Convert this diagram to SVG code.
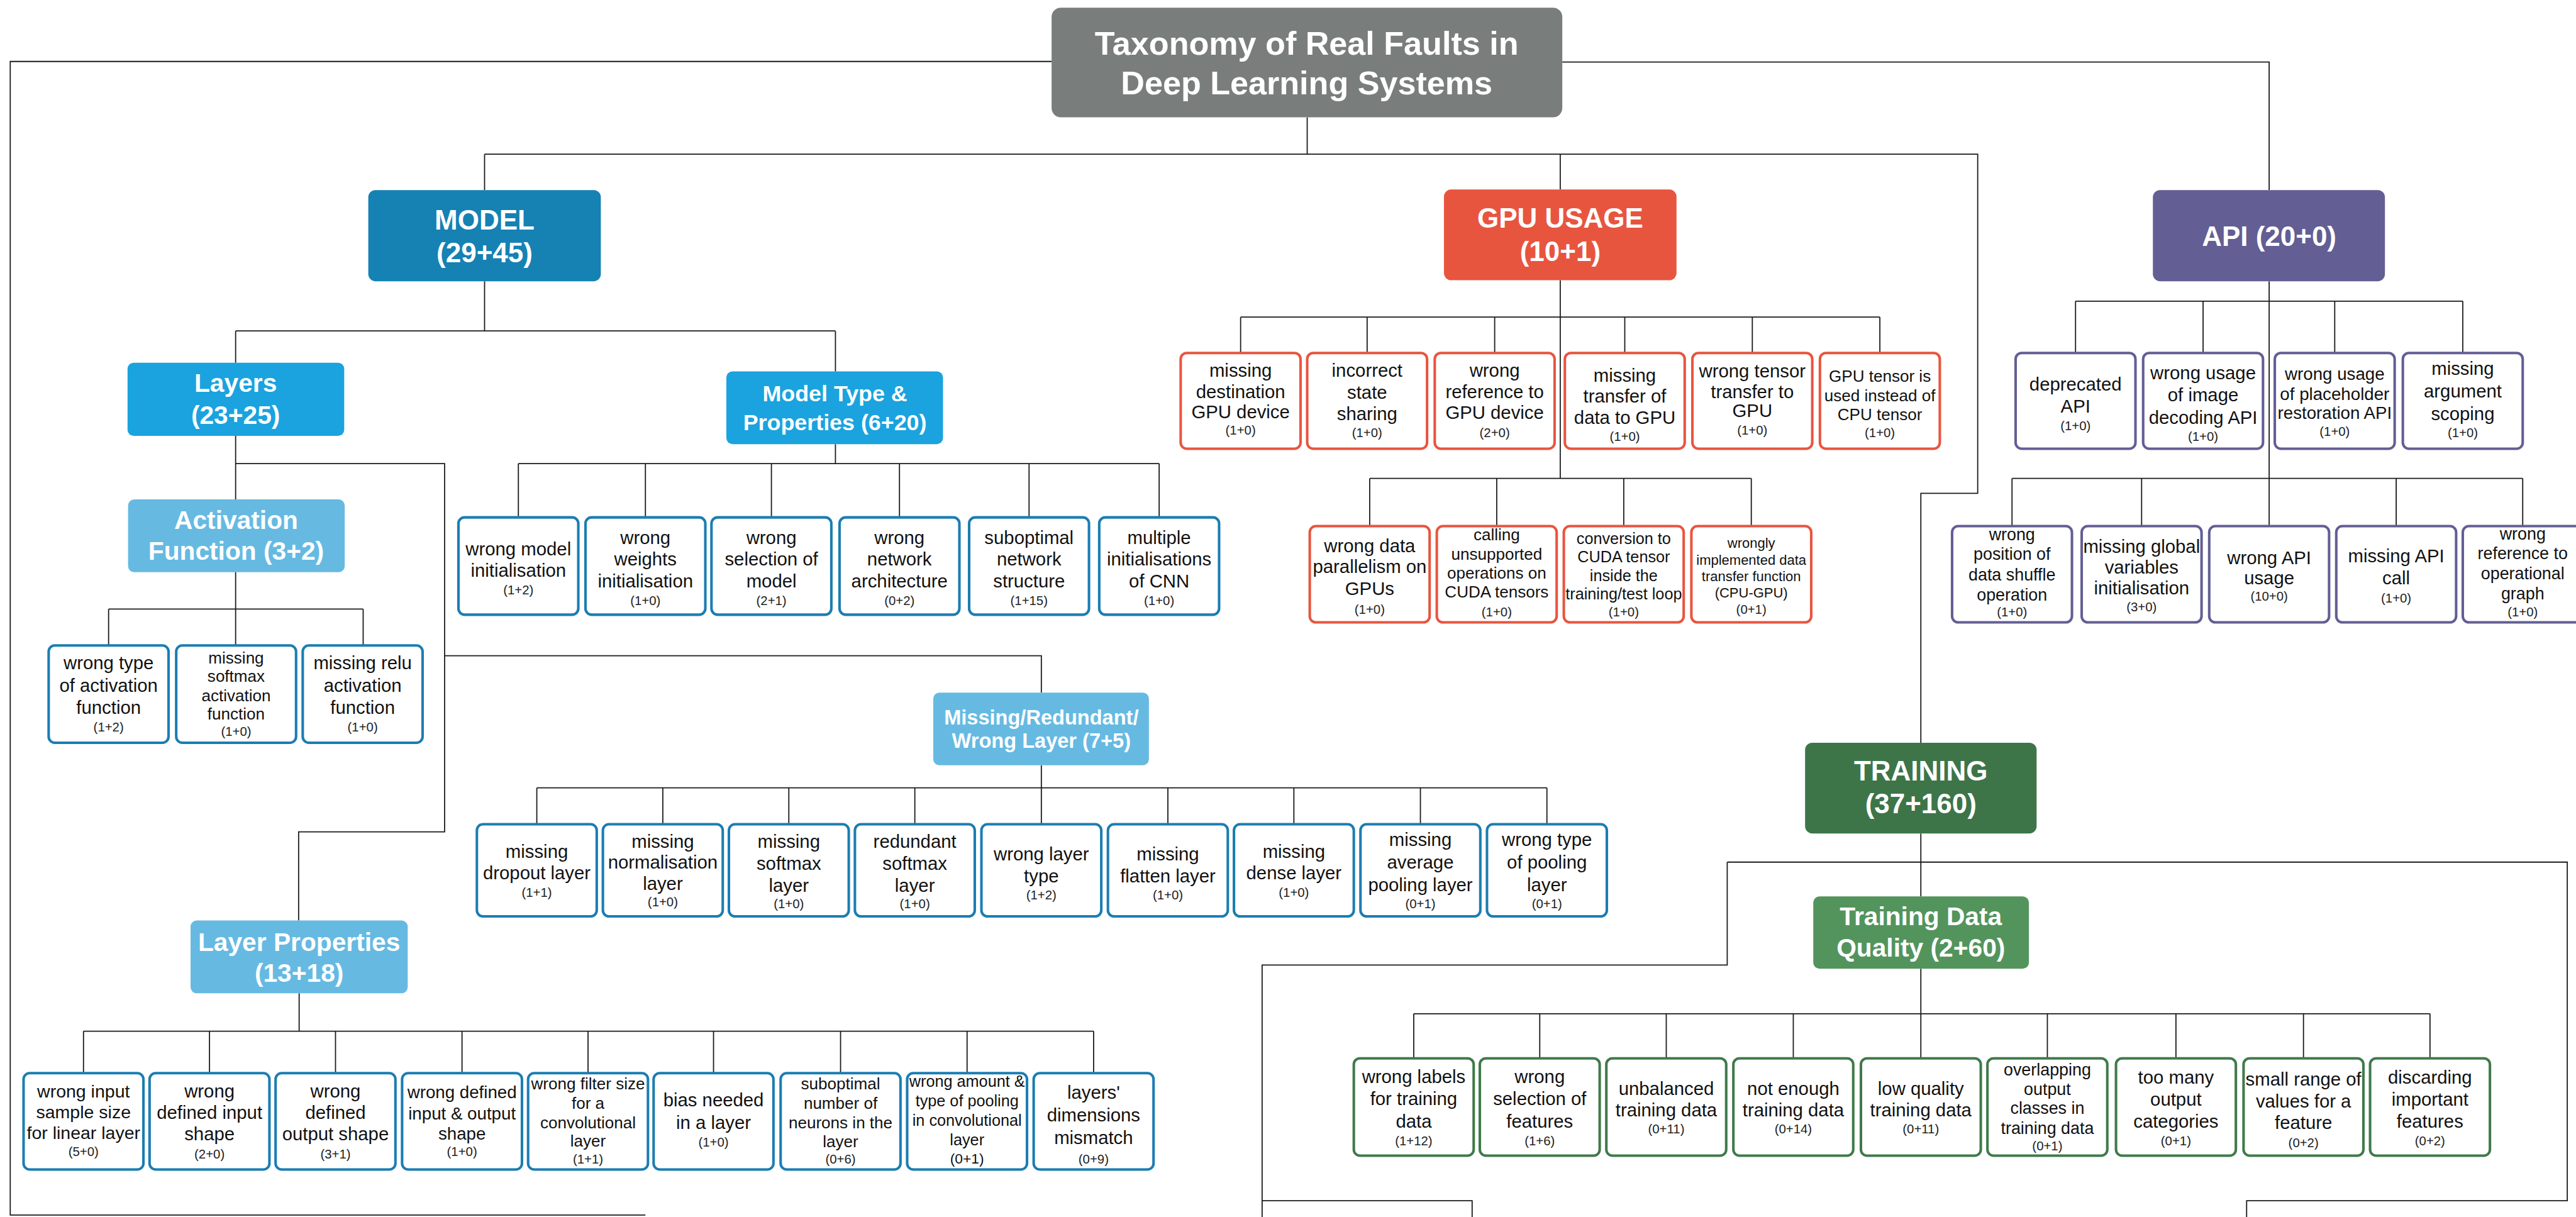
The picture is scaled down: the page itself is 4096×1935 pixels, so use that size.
<svg xmlns="http://www.w3.org/2000/svg" width="4096" height="1935" viewBox="0 0 4096 1935">
<style>
.ln{stroke:#1a1a1a;stroke-width:2.2;fill:none}
.lf{fill:#fff;stroke-width:5}
.bm{stroke:#1b7db2}.bg{stroke:#e8553f}.ba{stroke:#635e94}.bt{stroke:#3f7a4a}
.t{font-family:"Liberation Sans",Arial,Helvetica,sans-serif;text-anchor:middle;fill:#111;font-size:36px}
.c{font-size:25px;fill:#222}
.h{font-weight:bold;fill:#fff}
.s32{font-size:32px}.s31{font-size:31px}.s27{font-size:27px}.s33{font-size:33px}.s34{font-size:34px}.s35{font-size:35px}.s28{font-size:28px}
.f64{font-size:64px}.f54{font-size:54px}.f50{font-size:50px}.f44{font-size:44px}.f40{font-size:40px}
</style>
<rect width="4096" height="1935" fill="#fff"/>
<g transform="scale(0.81447)">
<g id="connectors" class="ln">
<path d="M2053,120H20V2372H1260"/>
<path d="M3050,121H4430V371"/>
<path d="M2552,229V301"/>
<path d="M946,301H3861V963H3750V1450"/>
<path d="M946,301V371M3046,301V370"/>
<path d="M946,549V646M460,646H1631M460,646V708M1631,646V725"/>
<path d="M460,851V975M460,905H868V1624H583V1797M868,1280H2033V1352"/>
<path d="M460,1117V1189M212,1189H709M212,1189V1260M460,1189V1260M709,1189V1260"/>
<path d="M1631,867V905M1012,905H2263M1012,905V1010M1260,905V1010M1506,905V1010M1756,905V1010M2009,905V1010M2263,905V1010"/>
<path d="M2033,1494V1538M1048,1538H3020M1048,1538V1609M1294,1538V1609M1540,1538V1609M1786,1538V1609M2033,1538V1609M2280,1538V1609M2526,1538V1609M2773,1538V1609M3020,1538V1609"/>
<path d="M584,1939V2013M163,2013H2135M163,2013V2095M409,2013V2095M655,2013V2095M902,2013V2095M1148,2013V2095M1393,2013V2095M1641,2013V2095M1888,2013V2095M2135,2013V2095"/>
<path d="M3046,547V934M2422,619H3670M2422,619V689M2669,619V689M2918,619V689M3172,619V689M3421,619V689M3670,619V689M2674,934H3419M2674,934V1027M2922,934V1027M3170,934V1027M3419,934V1027"/>
<path d="M4430,549V934M4052,588H4808M4052,588V689M4301,588V689M4558,588V689M4808,588V689M3928,934H4925M3928,934V1027M4181,934V1027M4430,934V1027M4678,934V1027M4925,934V1027"/>
<path d="M3750,1627V1750M3372,1683H5012V2344H4386V2380M3372,1683V1884H2464V2380M2464,2344H2874V2380"/>
<path d="M3750,1891V2066M2760,1979H4744M2760,1979V2066M3006,1979V2066M3253,1979V2066M3501,1979V2066M3997,1979V2066M4248,1979V2066M4497,1979V2066M4744,1979V2066"/>
</g>

<g id="title"><rect x="2053" y="15" width="997" height="214" rx="18" fill="#797d7c"/>
<text class="t h f64" x="2551" y="107">Taxonomy of Real Faults in</text>
<text class="t h f64" x="2551" y="184">Deep Learning Systems</text></g>

<g id="model"><rect x="719" y="371" width="454" height="178" rx="14" fill="#1681b3"/>
<text class="t h f54" x="946" y="448">MODEL</text><text class="t h f54" x="946" y="512">(29+45)</text></g>
<g id="gpu"><rect x="2819" y="370" width="454" height="177" rx="14" fill="#e8553f"/>
<text class="t h f54" x="3046" y="445">GPU USAGE</text><text class="t h f54" x="3046" y="510">(10+1)</text></g>
<g id="api"><rect x="4203" y="371" width="453" height="178" rx="14" fill="#635e94"/>
<text class="t h f54" x="4430" y="480">API (20+0)</text></g>
<g id="layers"><rect x="249" y="708" width="423" height="143" rx="12" fill="#1aa3de"/>
<text class="t h f50" x="460" y="765">Layers</text><text class="t h f50" x="460" y="828">(23+25)</text></g>
<g id="modeltype"><rect x="1418" y="725" width="423" height="142" rx="12" fill="#1aa3de"/>
<text class="t h f44" x="1630" y="783">Model Type &amp;</text><text class="t h f44" x="1630" y="840">Properties (6+20)</text></g>
<g id="activation"><rect x="250" y="975" width="423" height="142" rx="12" fill="#66bae2"/>
<text class="t h f50" x="461" y="1032">Activation</text><text class="t h f50" x="461" y="1093">Function (3+2)</text></g>
<g id="mrw"><rect x="1822" y="1352" width="421" height="142" rx="12" fill="#66bae2"/>
<text class="t h f40" x="2033" y="1414">Missing/Redundant/</text><text class="t h f40" x="2033" y="1460">Wrong Layer (7+5)</text></g>
<g id="layerprops"><rect x="372" y="1797" width="424" height="142" rx="12" fill="#66bae2"/>
<text class="t h f50" x="584" y="1857">Layer Properties</text><text class="t h f50" x="584" y="1917">(13+18)</text></g>
<g id="training"><rect x="3524" y="1450" width="452" height="177" rx="14" fill="#3d7549"/>
<text class="t h f54" x="3750" y="1524">TRAINING</text><text class="t h f54" x="3750" y="1588">(37+160)</text></g>
<g id="tdq"><rect x="3540" y="1750" width="421" height="141" rx="12" fill="#53945d"/>
<text class="t h f50" x="3750" y="1806">Training Data</text><text class="t h f50" x="3750" y="1867">Quality (2+60)</text></g>

<!-- Activation children -->
<g id="a1"><rect class="lf bm" x="95" y="1260" width="234" height="190" rx="12"/><text class="t" x="212" y="1307">wrong type</text><text class="t" x="212" y="1350">of activation</text><text class="t" x="212" y="1393">function</text><text class="t c" x="212" y="1428">(1+2)</text></g>
<g id="a2"><rect class="lf bm" x="344" y="1260" width="234" height="190" rx="12"/><text class="t s32" x="461" y="1295">missing</text><text class="t s32" x="461" y="1331">softmax</text><text class="t s32" x="461" y="1369">activation</text><text class="t s32" x="461" y="1404">function</text><text class="t c" x="461" y="1437">(1+0)</text></g>
<g id="a3"><rect class="lf bm" x="591" y="1260" width="234" height="190" rx="12"/><text class="t" x="708" y="1307">missing relu</text><text class="t" x="708" y="1350">activation</text><text class="t" x="708" y="1393">function</text><text class="t c" x="708" y="1428">(1+0)</text></g>

<!-- Model type children -->
<g id="m1"><rect class="lf bm" x="895" y="1010" width="234" height="190" rx="12"/><text class="t" x="1012" y="1084">wrong model</text><text class="t" x="1012" y="1126">initialisation</text><text class="t c" x="1012" y="1160">(1+2)</text></g>
<g id="m2"><rect class="lf bm" x="1143" y="1010" width="234" height="190" rx="12"/><text class="t" x="1260" y="1062">wrong</text><text class="t" x="1260" y="1104">weights</text><text class="t" x="1260" y="1147">initialisation</text><text class="t c" x="1260" y="1181">(1+0)</text></g>
<g id="m3"><rect class="lf bm" x="1389" y="1010" width="234" height="190" rx="12"/><text class="t" x="1506" y="1062">wrong</text><text class="t" x="1506" y="1104">selection of</text><text class="t" x="1506" y="1147">model</text><text class="t c" x="1506" y="1181">(2+1)</text></g>
<g id="m4"><rect class="lf bm" x="1639" y="1010" width="234" height="190" rx="12"/><text class="t" x="1756" y="1062">wrong</text><text class="t" x="1756" y="1104">network</text><text class="t" x="1756" y="1147">architecture</text><text class="t c" x="1756" y="1181">(0+2)</text></g>
<g id="m5"><rect class="lf bm" x="1892" y="1010" width="234" height="190" rx="12"/><text class="t" x="2009" y="1062">suboptimal</text><text class="t" x="2009" y="1104">network</text><text class="t" x="2009" y="1147">structure</text><text class="t c" x="2009" y="1181">(1+15)</text></g>
<g id="m6"><rect class="lf bm" x="2146" y="1010" width="234" height="190" rx="12"/><text class="t" x="2263" y="1062">multiple</text><text class="t" x="2263" y="1104">initialisations</text><text class="t" x="2263" y="1147">of CNN</text><text class="t c" x="2263" y="1181">(1+0)</text></g>

<!-- Missing/Redundant/Wrong layer children -->
<g id="r1"><rect class="lf bm" x="931" y="1609" width="234" height="180" rx="12"/><text class="t" x="1048" y="1675">missing</text><text class="t" x="1048" y="1716">dropout layer</text><text class="t c" x="1048" y="1751">(1+1)</text></g>
<g id="r2"><rect class="lf bm" x="1177" y="1609" width="234" height="180" rx="12"/><text class="t" x="1294" y="1655">missing</text><text class="t" x="1294" y="1696">normalisation</text><text class="t" x="1294" y="1737">layer</text><text class="t c" x="1294" y="1769">(1+0)</text></g>
<g id="r3"><rect class="lf bm" x="1423" y="1609" width="234" height="180" rx="12"/><text class="t" x="1540" y="1655">missing</text><text class="t" x="1540" y="1698">softmax</text><text class="t" x="1540" y="1741">layer</text><text class="t c" x="1540" y="1773">(1+0)</text></g>
<g id="r4"><rect class="lf bm" x="1669" y="1609" width="234" height="180" rx="12"/><text class="t" x="1786" y="1655">redundant</text><text class="t" x="1786" y="1698">softmax</text><text class="t" x="1786" y="1741">layer</text><text class="t c" x="1786" y="1773">(1+0)</text></g>
<g id="r5"><rect class="lf bm" x="1916" y="1609" width="234" height="180" rx="12"/><text class="t" x="2033" y="1680">wrong layer</text><text class="t" x="2033" y="1723">type</text><text class="t c" x="2033" y="1756">(1+2)</text></g>
<g id="r6"><rect class="lf bm" x="2163" y="1609" width="234" height="180" rx="12"/><text class="t" x="2280" y="1680">missing</text><text class="t" x="2280" y="1723">flatten layer</text><text class="t c" x="2280" y="1756">(1+0)</text></g>
<g id="r7"><rect class="lf bm" x="2409" y="1609" width="234" height="180" rx="12"/><text class="t" x="2526" y="1675">missing</text><text class="t" x="2526" y="1716">dense layer</text><text class="t c" x="2526" y="1751">(1+0)</text></g>
<g id="r8"><rect class="lf bm" x="2656" y="1609" width="234" height="180" rx="12"/><text class="t" x="2773" y="1652">missing</text><text class="t" x="2773" y="1695">average</text><text class="t" x="2773" y="1740">pooling layer</text><text class="t c" x="2773" y="1773">(0+1)</text></g>
<g id="r9"><rect class="lf bm" x="2903" y="1609" width="234" height="180" rx="12"/><text class="t" x="3020" y="1652">wrong type</text><text class="t" x="3020" y="1695">of pooling</text><text class="t" x="3020" y="1740">layer</text><text class="t c" x="3020" y="1773">(0+1)</text></g>

<!-- Layer properties children -->
<g id="l1"><rect class="lf bm" x="46" y="2095" width="234" height="188" rx="12"/><text class="t s35" x="163" y="2142">wrong input</text><text class="t s35" x="163" y="2183">sample size</text><text class="t s35" x="163" y="2224">for linear layer</text><text class="t c" x="163" y="2257">(5+0)</text></g>
<g id="l2"><rect class="lf bm" x="292" y="2095" width="234" height="188" rx="12"/><text class="t" x="409" y="2142">wrong</text><text class="t" x="409" y="2184">defined input</text><text class="t" x="409" y="2226">shape</text><text class="t c" x="409" y="2262">(2+0)</text></g>
<g id="l3"><rect class="lf bm" x="538" y="2095" width="234" height="188" rx="12"/><text class="t" x="655" y="2142">wrong</text><text class="t" x="655" y="2184">defined</text><text class="t" x="655" y="2226">output shape</text><text class="t c" x="655" y="2262">(3+1)</text></g>
<g id="l4"><rect class="lf bm" x="785" y="2095" width="234" height="188" rx="12"/><text class="t s34" x="902" y="2144">wrong defined</text><text class="t s34" x="902" y="2185">input &amp; output</text><text class="t s34" x="902" y="2225">shape</text><text class="t c" x="902" y="2257">(1+0)</text></g>
<g id="l5"><rect class="lf bm" x="1031" y="2095" width="234" height="188" rx="12"/><text class="t s32" x="1148" y="2127">wrong filter size</text><text class="t s32" x="1148" y="2165">for a</text><text class="t s32" x="1148" y="2203">convolutional</text><text class="t s32" x="1148" y="2238">layer</text><text class="t c" x="1148" y="2271">(1+1)</text></g>
<g id="l6"><rect class="lf bm" x="1276" y="2095" width="234" height="188" rx="12"/><text class="t" x="1393" y="2160">bias needed</text><text class="t" x="1393" y="2204">in a layer</text><text class="t c" x="1393" y="2238">(1+0)</text></g>
<g id="l7"><rect class="lf bm" x="1524" y="2095" width="234" height="188" rx="12"/><text class="t s32" x="1641" y="2127">suboptimal</text><text class="t s32" x="1641" y="2165">number of</text><text class="t s32" x="1641" y="2203">neurons in the</text><text class="t s32" x="1641" y="2240">layer</text><text class="t c" x="1641" y="2271">(0+6)</text></g>
<g id="l8"><rect class="lf bm" x="1771" y="2095" width="234" height="188" rx="12"/><text class="t s31" x="1888" y="2122">wrong amount &amp;</text><text class="t s31" x="1888" y="2160">type of pooling</text><text class="t s31" x="1888" y="2198">in convolutional</text><text class="t s31" x="1888" y="2236">layer</text><text class="t s28" x="1888" y="2271">(0+1)</text></g>
<g id="l9"><rect class="lf bm" x="2018" y="2095" width="234" height="188" rx="12"/><text class="t" x="2135" y="2145">layers'</text><text class="t" x="2135" y="2189">dimensions</text><text class="t" x="2135" y="2233">mismatch</text><text class="t c" x="2135" y="2271">(0+9)</text></g>

<!-- GPU children -->
<g id="g1"><rect class="lf bg" x="2305" y="689" width="234" height="187" rx="12"/><text class="t" x="2422" y="735">missing</text><text class="t" x="2422" y="777">destination</text><text class="t" x="2422" y="817">GPU device</text><text class="t c" x="2422" y="849">(1+0)</text></g>
<g id="g2"><rect class="lf bg" x="2552" y="689" width="234" height="187" rx="12"/><text class="t" x="2669" y="735">incorrect</text><text class="t" x="2669" y="778">state</text><text class="t" x="2669" y="820">sharing</text><text class="t c" x="2669" y="853">(1+0)</text></g>
<g id="g3"><rect class="lf bg" x="2801" y="689" width="234" height="187" rx="12"/><text class="t" x="2918" y="735">wrong</text><text class="t" x="2918" y="777">reference to</text><text class="t" x="2918" y="818">GPU device</text><text class="t c" x="2918" y="853">(2+0)</text></g>
<g id="g4"><rect class="lf bg" x="3055" y="689" width="234" height="187" rx="12"/><text class="t" x="3172" y="745">missing</text><text class="t" x="3172" y="786">transfer of</text><text class="t" x="3172" y="828">data to GPU</text><text class="t c" x="3172" y="861">(1+0)</text></g>
<g id="g5"><rect class="lf bg" x="3304" y="689" width="234" height="187" rx="12"/><text class="t" x="3421" y="737">wrong tensor</text><text class="t" x="3421" y="777">transfer to</text><text class="t" x="3421" y="814">GPU</text><text class="t c" x="3421" y="848">(1+0)</text></g>
<g id="g6"><rect class="lf bg" x="3553" y="689" width="234" height="187" rx="12"/><text class="t s32" x="3670" y="745">GPU tensor is</text><text class="t s32" x="3670" y="783">used instead of</text><text class="t s32" x="3670" y="820">CPU tensor</text><text class="t c" x="3670" y="853">(1+0)</text></g>
<g id="h1"><rect class="lf bg" x="2557" y="1027" width="234" height="188" rx="12"/><text class="t" x="2674" y="1078">wrong data</text><text class="t" x="2674" y="1119">parallelism on</text><text class="t" x="2674" y="1162">GPUs</text><text class="t c" x="2674" y="1198">(1+0)</text></g>
<g id="h2"><rect class="lf bg" x="2805" y="1027" width="234" height="188" rx="12"/><text class="t s32" x="2922" y="1055">calling</text><text class="t s32" x="2922" y="1093">unsupported</text><text class="t s32" x="2922" y="1130">operations on</text><text class="t s32" x="2922" y="1167">CUDA tensors</text><text class="t c" x="2922" y="1203">(1+0)</text></g>
<g id="h3"><rect class="lf bg" x="3053" y="1027" width="234" height="188" rx="12"/><text class="t s31" x="3170" y="1062">conversion to</text><text class="t s31" x="3170" y="1098">CUDA tensor</text><text class="t s31" x="3170" y="1134">inside the</text><text class="t s31" x="3170" y="1170">training/test loop</text><text class="t c" x="3170" y="1203">(1+0)</text></g>
<g id="h4"><rect class="lf bg" x="3302" y="1027" width="234" height="188" rx="12"/><text class="t s27" x="3419" y="1070">wrongly</text><text class="t s27" x="3419" y="1102">implemented data</text><text class="t s27" x="3419" y="1134">transfer function</text><text class="t s27" x="3419" y="1167">(CPU-GPU)</text><text class="t c" x="3419" y="1198">(0+1)</text></g>

<!-- API children -->
<g id="p1"><rect class="lf ba" x="3935" y="689" width="234" height="187" rx="12"/><text class="t" x="4052" y="763">deprecated</text><text class="t" x="4052" y="806">API</text><text class="t c" x="4052" y="840">(1+0)</text></g>
<g id="p2"><rect class="lf ba" x="4184" y="689" width="234" height="187" rx="12"/><text class="t" x="4301" y="740">wrong usage</text><text class="t" x="4301" y="783">of image</text><text class="t" x="4301" y="828">decoding API</text><text class="t c" x="4301" y="861">(1+0)</text></g>
<g id="p3"><rect class="lf ba" x="4441" y="689" width="234" height="187" rx="12"/><text class="t s34" x="4558" y="742">wrong usage</text><text class="t s34" x="4558" y="781">of placeholder</text><text class="t s34" x="4558" y="818">restoration API</text><text class="t c" x="4558" y="851">(1+0)</text></g>
<g id="p4"><rect class="lf ba" x="4691" y="689" width="234" height="187" rx="12"/><text class="t" x="4808" y="732">missing</text><text class="t" x="4808" y="776">argument</text><text class="t" x="4808" y="820">scoping</text><text class="t c" x="4808" y="853">(1+0)</text></g>
<g id="q1"><rect class="lf ba" x="3811" y="1027" width="234" height="188" rx="12"/><text class="t s33" x="3928" y="1055">wrong</text><text class="t s33" x="3928" y="1093">position of</text><text class="t s33" x="3928" y="1133">data shuffle</text><text class="t s33" x="3928" y="1172">operation</text><text class="t c" x="3928" y="1203">(1+0)</text></g>
<g id="q2"><rect class="lf ba" x="4064" y="1027" width="234" height="188" rx="12"/><text class="t" x="4181" y="1079">missing global</text><text class="t" x="4181" y="1120">variables</text><text class="t" x="4181" y="1160">initialisation</text><text class="t c" x="4181" y="1194">(3+0)</text></g>
<g id="q3"><rect class="lf ba" x="4313" y="1027" width="234" height="188" rx="12"/><text class="t" x="4430" y="1101">wrong API</text><text class="t" x="4430" y="1141">usage</text><text class="t c" x="4430" y="1172">(10+0)</text></g>
<g id="q4"><rect class="lf ba" x="4561" y="1027" width="234" height="188" rx="12"/><text class="t" x="4678" y="1098">missing API</text><text class="t" x="4678" y="1141">call</text><text class="t c" x="4678" y="1176">(1+0)</text></g>
<g id="q5"><rect class="lf ba" x="4808" y="1027" width="234" height="188" rx="12"/><text class="t s33" x="4925" y="1053">wrong</text><text class="t s33" x="4925" y="1092">reference to</text><text class="t s33" x="4925" y="1131">operational</text><text class="t s33" x="4925" y="1170">graph</text><text class="t c" x="4925" y="1203">(1+0)</text></g>

<!-- Training data quality children -->
<g id="d1"><rect class="lf bt" x="2643" y="2066" width="234" height="190" rx="12"/><text class="t" x="2760" y="2114">wrong labels</text><text class="t" x="2760" y="2157">for training</text><text class="t" x="2760" y="2201">data</text><text class="t c" x="2760" y="2236">(1+12)</text></g>
<g id="d2"><rect class="lf bt" x="2889" y="2066" width="234" height="190" rx="12"/><text class="t" x="3006" y="2114">wrong</text><text class="t" x="3006" y="2157">selection of</text><text class="t" x="3006" y="2201">features</text><text class="t c" x="3006" y="2236">(1+6)</text></g>
<g id="d3"><rect class="lf bt" x="3136" y="2066" width="234" height="190" rx="12"/><text class="t" x="3253" y="2137">unbalanced</text><text class="t" x="3253" y="2179">training data</text><text class="t c" x="3253" y="2213">(0+11)</text></g>
<g id="d4"><rect class="lf bt" x="3384" y="2066" width="234" height="190" rx="12"/><text class="t" x="3501" y="2137">not enough</text><text class="t" x="3501" y="2179">training data</text><text class="t c" x="3501" y="2213">(0+14)</text></g>
<g id="d5"><rect class="lf bt" x="3633" y="2066" width="234" height="190" rx="12"/><text class="t" x="3750" y="2137">low quality</text><text class="t" x="3750" y="2179">training data</text><text class="t c" x="3750" y="2213">(0+11)</text></g>
<g id="d6"><rect class="lf bt" x="3880" y="2066" width="234" height="190" rx="12"/><text class="t s33" x="3997" y="2099">overlapping</text><text class="t s33" x="3997" y="2137">output</text><text class="t s33" x="3997" y="2175">classes in</text><text class="t s33" x="3997" y="2214">training data</text><text class="t c" x="3997" y="2246">(0+1)</text></g>
<g id="d7"><rect class="lf bt" x="4131" y="2066" width="234" height="190" rx="12"/><text class="t" x="4248" y="2115">too many</text><text class="t" x="4248" y="2158">output</text><text class="t" x="4248" y="2201">categories</text><text class="t c" x="4248" y="2236">(0+1)</text></g>
<g id="d8"><rect class="lf bt" x="4380" y="2066" width="234" height="190" rx="12"/><text class="t" x="4497" y="2119">small range of</text><text class="t" x="4497" y="2162">values for a</text><text class="t" x="4497" y="2204">feature</text><text class="t c" x="4497" y="2239">(0+2)</text></g>
<g id="d9"><rect class="lf bt" x="4627" y="2066" width="234" height="190" rx="12"/><text class="t" x="4744" y="2115">discarding</text><text class="t" x="4744" y="2158">important</text><text class="t" x="4744" y="2201">features</text><text class="t c" x="4744" y="2236">(0+2)</text></g>
</g>
</svg>
